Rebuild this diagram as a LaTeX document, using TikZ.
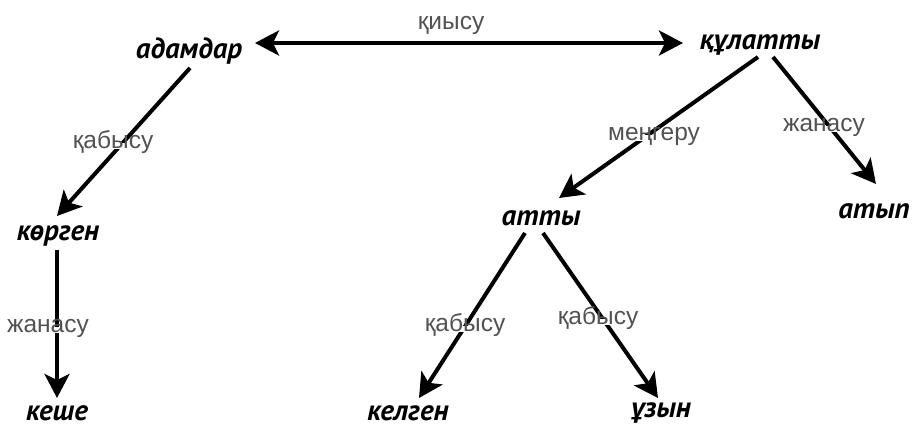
\documentclass[tikz,border=0pt]{standalone}
\usepackage{fontspec}
\setmainfont{Liberation Sans}
\newfontfamily\wordfont{PT Sans}
\usetikzlibrary{arrows.meta}
\begin{document}
\begin{tikzpicture}[x=1pt,y=-1pt,
  word/.style={font=\wordfont\bfseries\itshape\fontsize{29}{32}\selectfont, inner sep=0pt},
  rel/.style={font=\fontsize{24.5}{28}\selectfont, text=black!68, fill=white, inner sep=0pt, text height=1.05ex, text depth=0pt},
  link/.style={line width=4pt, -{Stealth[length=24pt,width=25pt,inset=6pt]}},
  blink/.style={line width=4pt, {Stealth[length=24pt,width=25pt,inset=6pt]}-{Stealth[length=24pt,width=25pt,inset=6pt]}}]
\useasboundingbox (0,0) rectangle (917,428);
\node[word] (adamdar) at (189,51) {адамдар};
\node[word] (qulatty) at (760,45) {құлатты};
\node[word] (korgen) at (58,236) {көрген};
\node[word] (keshe) at (57,413) {кеше};
\node[word] (atty) at (541,218) {атты};
\node[word] (atyp) at (874,211) {атып};
\node[word] (kelgen) at (408,413) {келген};
\node[word] (uzyn) at (661,413) {ұзын};

\coordinate (a1) at (255,43);
\coordinate (a2) at (683,43);
\draw[blink] (a1) -- (a2);
\node[rel] (l0) at (451,27) {қиысу};

\coordinate (b1) at (190,68);
\coordinate (b2) at (57,216);
\draw[link] (b1) -- (b2);
\node[rel] (l1) at (113,146) {қабысу};

\coordinate (c1) at (57,250);
\coordinate (c2) at (57,398);
\draw[link] (c1) -- (c2);
\node[rel] (l2) at (48,330) {жанасу};

\coordinate (d1) at (758,57);
\coordinate (d2) at (559,198);
\draw[link] (d1) -- (d2);
\node[rel] (l3) at (654,138) {меңгеру};

\coordinate (e1) at (773,57);
\coordinate (e2) at (876,184);
\draw[link] (e1) -- (e2);
\node[rel] (l4) at (824,129) {жанасу};

\coordinate (f1) at (525,233);
\coordinate (f2) at (419,398);
\draw[link] (f1) -- (f2);
\node[rel] (l5) at (465,329) {қабысу};

\coordinate (g1) at (543,233);
\coordinate (g2) at (658,398);
\draw[link] (g1) -- (g2);
\node[rel] (l6) at (598,322) {қабысу};
\end{tikzpicture}
\end{document}
